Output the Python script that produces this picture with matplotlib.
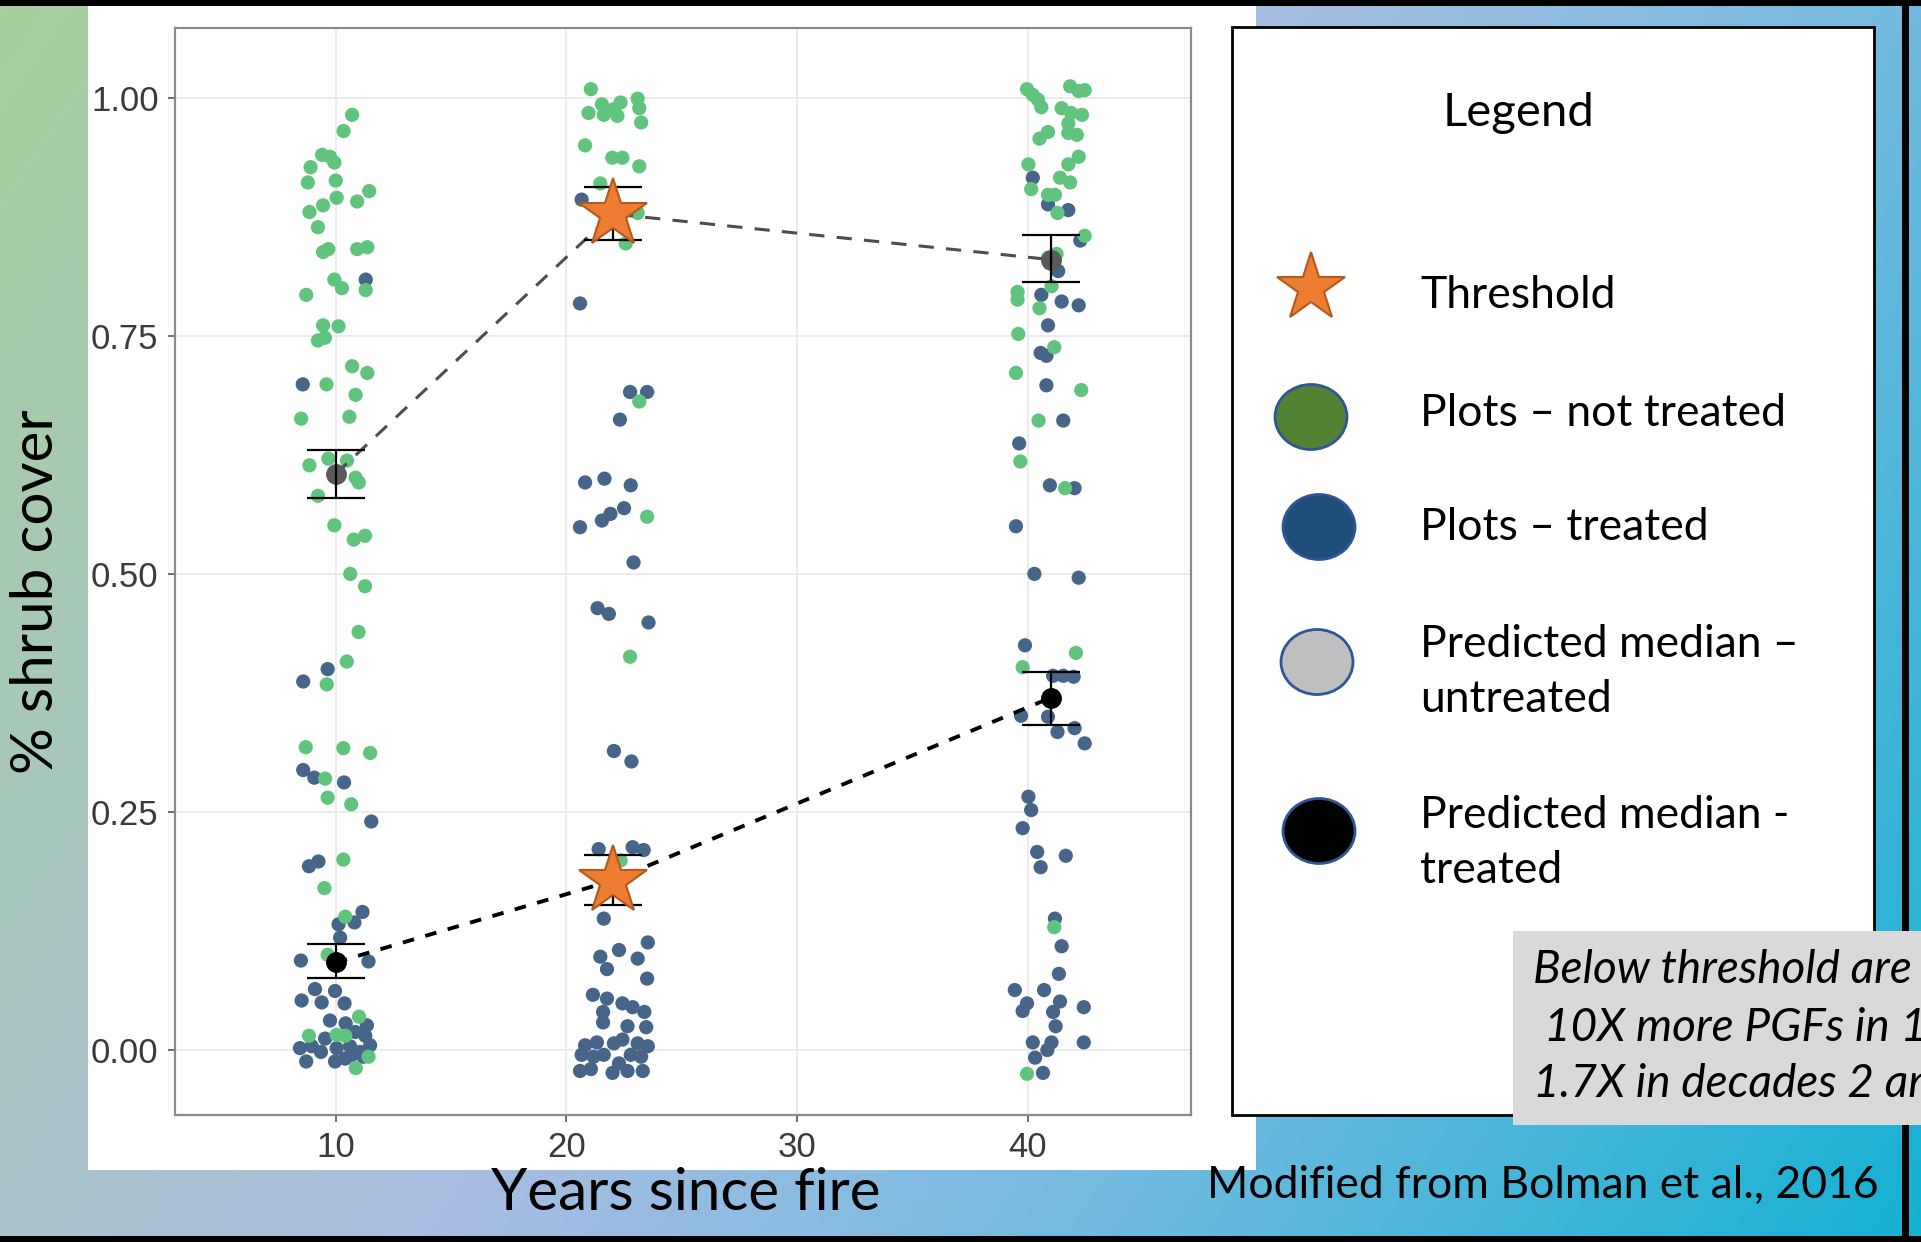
import numpy as np
import matplotlib
matplotlib.use("Agg")
import matplotlib.pyplot as plt
from matplotlib.patches import Rectangle, Ellipse
from matplotlib.colors import LinearSegmentedColormap

# ---- data (years since fire, jittered, vs shrub cover) ----
# plots not treated (green)
untreated_x = [10.71, 10.34, 9.41, 9.75, 9.94, 8.91, 8.79, 10.0, 10.04, 10.93, 11.45, 9.45, 8.86, 9.23,
               9.45, 9.68, 10.93, 11.37, 11.30, 9.94, 10.27, 8.72, 9.45, 10.12, 9.23, 9.53, 10.71, 11.37,
               9.60, 10.86, 8.50, 10.59, 8.86, 9.68, 10.49, 10.86, 11.0, 9.23, 9.94, 10.78, 11.27, 10.63,
               11.27, 10.99, 10.48, 9.61, 8.70, 10.33, 11.49, 9.54, 9.65, 10.67, 10.33, 9.51, 10.41, 9.65,
               11.01, 8.84, 10.04, 10.41, 11.42, 10.87,
               21.06, 20.96, 21.54, 21.62, 22.06, 22.35, 22.21, 23.09, 23.16, 23.24, 20.81, 21.99, 22.43,
               23.16, 21.47, 23.09, 22.57, 23.16, 23.50, 22.76, 22.35,
               39.97, 40.22, 40.44, 40.59, 41.84, 42.21, 42.47, 41.47, 41.88, 42.35, 41.76, 40.88, 40.51,
               41.76, 42.13, 42.21, 41.76, 40.03, 40.15, 41.40, 41.84, 40.88, 41.18, 41.29, 42.47, 40.88,
               41.25, 41.03, 39.56, 39.56, 40.51, 39.59, 41.15, 39.49, 42.32, 40.47, 39.68, 41.62, 42.09,
               39.78, 41.15, 39.97]
untreated_y = [0.982, 0.965, 0.940, 0.938, 0.932, 0.927, 0.911, 0.913, 0.895, 0.891, 0.902, 0.887, 0.880, 0.864,
               0.838, 0.841, 0.841, 0.843, 0.798, 0.809, 0.800, 0.793, 0.761, 0.760, 0.745, 0.748, 0.718, 0.711,
               0.699, 0.688, 0.663, 0.665, 0.614, 0.621, 0.619, 0.601, 0.596, 0.582, 0.551, 0.536, 0.540, 0.500,
               0.487, 0.439, 0.408, 0.384, 0.318, 0.317, 0.312, 0.285, 0.265, 0.258, 0.200, 0.170, 0.140, 0.100,
               0.035, 0.015, 0.016, 0.015, -0.007, -0.019,
               1.009, 0.984, 0.993, 0.982, 0.988, 0.995, 0.981, 0.999, 0.989, 0.974, 0.950, 0.937, 0.937,
               0.928, 0.910, 0.879, 0.847, 0.681, 0.560, 0.413, 0.199,
               1.009, 1.003, 0.998, 0.990, 1.012, 1.007, 1.008, 0.989, 0.984, 0.982, 0.973, 0.964, 0.957,
               0.963, 0.961, 0.938, 0.930, 0.930, 0.904, 0.916, 0.911, 0.898, 0.898, 0.879, 0.855, 0.832,
               0.836, 0.802, 0.796, 0.788, 0.779, 0.752, 0.738, 0.711, 0.693, 0.661, 0.618, 0.590, 0.417,
               0.402, 0.129, -0.025]

# plots treated (dark blue)
treated_x = [11.30, 8.57, 9.65, 8.59, 8.59, 9.07, 10.36, 11.54, 8.84, 9.25, 11.16, 10.12, 10.81, 10.19,
             8.49, 11.42, 9.10, 9.97, 8.52, 9.39, 10.38, 9.75, 10.43, 10.84, 11.28, 8.45, 8.96, 9.36,
             10.04, 10.62, 11.06, 11.49, 8.72, 9.97, 10.41, 11.20, 10.70, 9.54, 11.35,
             20.66, 20.59, 22.76, 23.50, 22.32, 20.81, 21.65, 22.79, 20.59, 21.54, 21.91, 22.50, 22.91,
             21.35, 21.84, 23.56, 22.06, 22.82, 21.40, 22.87, 23.35, 21.62, 23.53, 22.28, 21.47, 23.09,
             21.76, 23.50, 21.15, 21.76, 22.43, 22.87, 21.59, 23.38, 22.65, 21.59, 23.46, 20.81, 21.32,
             22.06, 22.43, 23.09, 23.53, 20.66, 21.62, 22.79, 20.59, 21.06, 22.0, 22.65, 23.31, 22.28,
             23.24, 21.18,
             40.22, 40.88, 41.76, 42.28, 41.32, 40.59, 41.47, 42.21, 40.88, 40.56, 40.81, 40.81, 41.54,
             39.63, 40.96, 42.03, 39.49, 40.29, 42.21, 39.88, 41.10, 41.54, 41.99, 39.71, 40.88, 41.29,
             42.03, 42.47, 40.03, 40.15, 39.78, 40.41, 40.56, 41.65, 41.18, 41.47, 41.35, 39.44, 40.71,
             39.97, 39.78, 41.40, 41.10, 42.43, 41.21, 40.22, 41.03, 40.85, 42.43, 40.32, 40.66]
treated_y = [0.809, 0.699, 0.400, 0.387, 0.294, 0.286, 0.281, 0.240, 0.193, 0.198, 0.145, 0.132, 0.134, 0.118,
             0.094, 0.093, 0.064, 0.062, 0.052, 0.050, 0.049, 0.031, 0.028, 0.019, 0.015, 0.002, 0.004, -0.002,
             0.002, 0.004, -0.002, 0.005, -0.012, -0.012, -0.009, -0.007, -0.005, 0.012, 0.026,
             0.893, 0.784, 0.691, 0.691, 0.662, 0.596, 0.600, 0.593, 0.549, 0.556, 0.563, 0.569, 0.512,
             0.464, 0.458, 0.449, 0.314, 0.303, 0.211, 0.213, 0.210, 0.138, 0.113, 0.105, 0.098, 0.096,
             0.085, 0.075, 0.058, 0.054, 0.049, 0.045, 0.040, 0.040, 0.025, 0.029, 0.024, 0.005, 0.008,
             0.007, 0.011, 0.007, 0.004, -0.005, -0.005, -0.005, -0.022, -0.020, -0.024, -0.022, -0.022, -0.014,
             -0.007, -0.007,
             0.916, 0.888, 0.882, 0.850, 0.818, 0.793, 0.786, 0.782, 0.761, 0.732, 0.729, 0.698, 0.661,
             0.637, 0.593, 0.590, 0.550, 0.500, 0.496, 0.425, 0.393, 0.393, 0.392, 0.351, 0.350, 0.334,
             0.338, 0.322, 0.266, 0.252, 0.233, 0.208, 0.192, 0.204, 0.138, 0.109, 0.080, 0.063, 0.063,
             0.049, 0.041, 0.051, 0.040, 0.045, 0.025, 0.008, 0.008, 0.000, 0.008, -0.008, -0.024]

# predicted medians with error bars
pred_years = [10, 22, 41]
untreated_median = [0.605, 0.878, 0.830]
untreated_lo = [0.580, 0.851, 0.806]
untreated_hi = [0.630, 0.906, 0.856]
treated_median = [0.092, 0.178, 0.370]
treated_lo = [0.076, 0.152, 0.341]
treated_hi = [0.111, 0.205, 0.397]

# thresholds (stars)
threshold_x = [22, 22]
threshold_y = [0.878, 0.178]

xticks = [10, 20, 30, 40]
yticks = [0.00, 0.25, 0.50, 0.75, 1.00]

legend_labels = ["Threshold", "Plots \u2013 not treated", "Plots \u2013 treated",
                 "Predicted median \u2013\nuntreated", "Predicted median -\ntreated"]
note_lines = ["Below threshold are", "10X more PGFs in 1st decade,", "1.7X in decades 2 and 3"]

GREEN = "#60c47e"
BLUE = "#466589"
ORANGE = "#ed7d31"
SLIDE_FONT = ["Lato", "DejaVu Sans"]
TICK_FONT = ["Liberation Sans Narrow", "Liberation Sans", "DejaVu Sans"]

W, H = 1921, 1242
fig = plt.figure(figsize=(W / 100, H / 100), dpi=100)

# slide background in pixel coordinates
slide = fig.add_axes([0, 0, 1, 1], zorder=0)
slide.set_xlim(0, W)
slide.set_ylim(H, 0)
slide.axis("off")

u, v = np.meshgrid(np.linspace(0, 1, 400), np.linspace(0, 1, 260))
grad = 0.7 * u + 0.3 * v
bg_cmap = LinearSegmentedColormap.from_list(
    "bg", [(0, "#a6cf9c"), (0.45, "#aabde2"), (0.7, "#72badf"), (1, "#14b1d3")])
slide.imshow(grad, cmap=bg_cmap, extent=(0, W, H, 0), aspect="auto",
             interpolation="bilinear", vmin=0, vmax=1)

slide.add_patch(Rectangle((88, 4), 1256 - 88, 1170 - 4, fc="white", ec="none"))
slide.add_patch(Rectangle((0, 0), W, 6, fc="black", ec="none"))
slide.add_patch(Rectangle((0, H - 6), W, 6, fc="black", ec="none"))
slide.add_patch(Rectangle((1902, 0), 7, H, fc="black", ec="none"))

# legend box
slide.add_patch(Rectangle((1232, 27), 1874 - 1232, 1115 - 27, fc="white", ec="black", lw=2))
slide.text(1519, 113, "Legend", ha="center", va="center", fontsize=34, family=SLIDE_FONT)
slide.plot([1311], [288], marker="*", ms=52, mfc=ORANGE, mec="#b5581c", mew=1.5, ls="none")
for cx, cy, fc in [(1311, 417, "#548235"), (1319, 527, "#1f4e79"),
                   (1317, 662, "#bfbfbf"), (1319, 831, "black")]:
    slide.add_patch(Ellipse((cx, cy), 72, 65, fc=fc, ec="#2f5597", lw=2))
for (ty, label) in zip([296, 413, 528, 672, 843], legend_labels):
    slide.text(1420, ty, label, ha="left", va="center", fontsize=32,
               family=SLIDE_FONT, linespacing=1.45)

# grey note box (runs off the slide edge)
slide.add_patch(Rectangle((1513, 931), W - 1513, 1125 - 931, fc="#d9d9d9", ec="none"))
for (nx, ny, line) in zip([1533, 1544, 1533], [970, 1028, 1084], note_lines):
    t = slide.text(nx, ny, line, ha="left", va="center", fontsize=33,
                   style="italic", family=SLIDE_FONT)
    t.set_clip_box(slide.bbox)
    t.set_clip_on(True)

slide.text(1543, 1185, "Modified from Bolman et al., 2016", ha="center", va="center",
           fontsize=32, family=SLIDE_FONT)
slide.text(686, 1194, "Years since fire", ha="center", va="center", fontsize=42, family=SLIDE_FONT)
slide.text(37, 592, "% shrub cover", ha="center", va="center", rotation=90,
           fontsize=42, family=SLIDE_FONT)

# ---- the ggplot panel ----
ax = fig.add_axes([175.2 / W, 1 - 1114.8 / H, (1190.8 - 175.2) / W, (1114.8 - 28.2) / H], zorder=1)
ax.set_facecolor("white")
ax.set_xlim(3.04, 47.07)
ax.set_ylim(-0.068, 1.073)
ax.set_xticks(xticks)
ax.set_yticks(yticks)
ax.set_yticklabels([f"{t:.2f}" for t in yticks])
ax.grid(True, color="#ebebeb", lw=1.3)
ax.set_axisbelow(True)
for sp in ax.spines.values():
    sp.set_color("#8a8a8a")
    sp.set_linewidth(1.6)
ax.tick_params(length=5, width=1.2, color="#555555", labelsize=25, labelcolor="#3a3a3a", pad=7)
for lab in ax.get_xticklabels() + ax.get_yticklabels():
    lab.set_family(TICK_FONT)

ax.scatter(treated_x, treated_y, s=105, color=BLUE, edgecolors="none", zorder=2)
ax.scatter(untreated_x, untreated_y, s=105, color=GREEN, edgecolors="none", zorder=2)

ax.plot(pred_years, untreated_median, ls=(0, (5, 4)), color="#4d4d4d", lw=2.2, zorder=3)
ax.plot(pred_years, treated_median, ls=(0, (3, 3)), color="black", lw=2.8, zorder=3)

ax.plot(pred_years, untreated_median, "o", ms=14, color="#5a5a5a", zorder=3)
ax.plot(pred_years, treated_median, "o", ms=14, color="black", zorder=3)

u_err = [np.subtract(untreated_median, untreated_lo), np.subtract(untreated_hi, untreated_median)]
t_err = [np.subtract(treated_median, treated_lo), np.subtract(treated_hi, treated_median)]
ax.errorbar(pred_years, untreated_median, yerr=u_err, fmt="none", ecolor="black",
            elinewidth=1.6, capsize=21, capthick=1.6, zorder=4)
ax.errorbar(pred_years, treated_median, yerr=t_err, fmt="none", ecolor="black",
            elinewidth=1.6, capsize=21, capthick=1.6, zorder=4)

ax.plot(threshold_x, threshold_y, marker="*", ms=52, mfc=ORANGE, mec="#b5581c", mew=1.5,
        ls="none", zorder=6)

fig.savefig("out.png", dpi=100)
